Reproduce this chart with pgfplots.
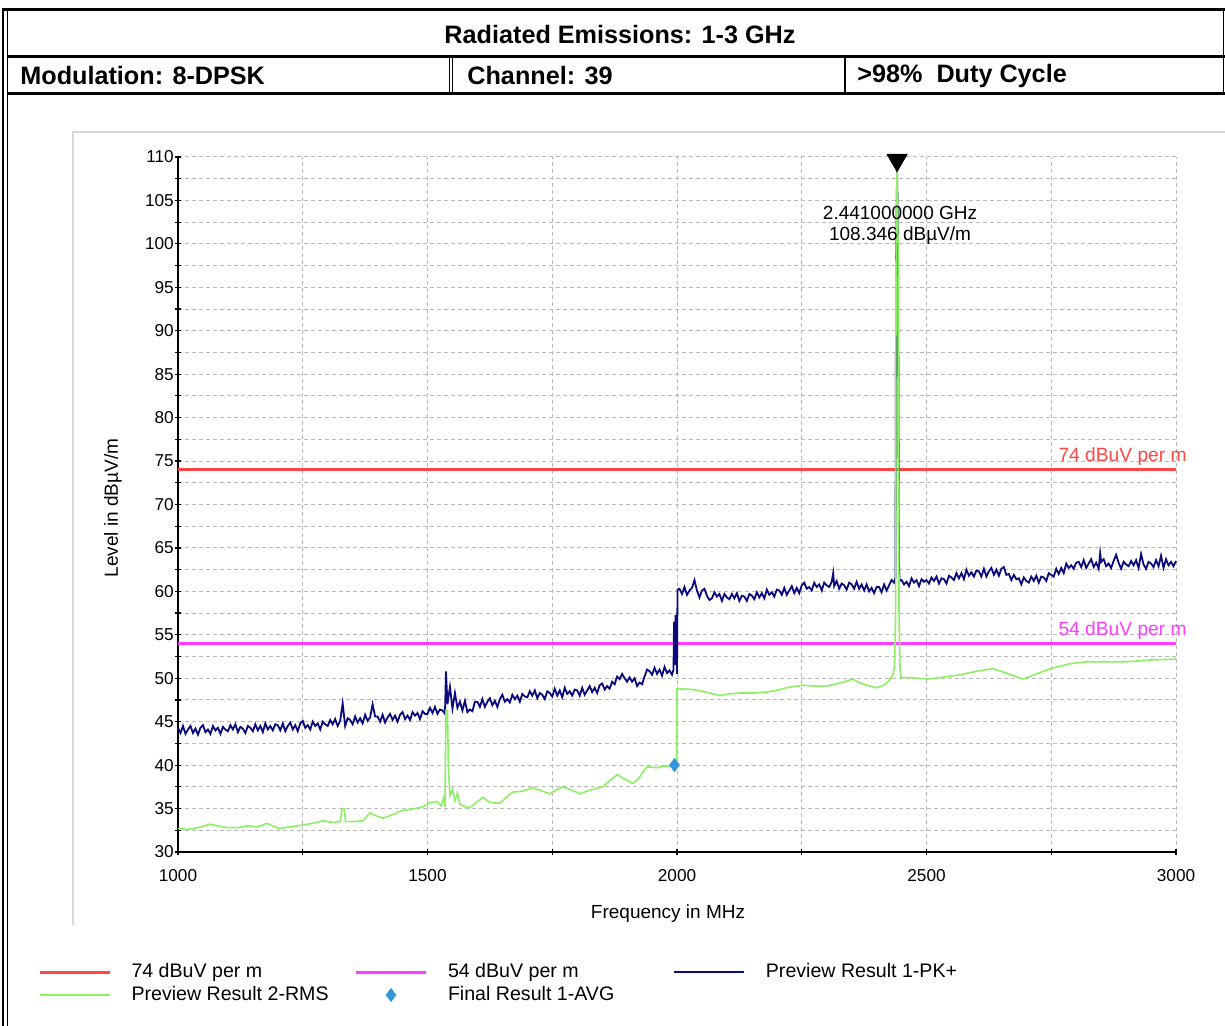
\documentclass[border=0pt]{standalone}
\usepackage{fontspec}
\setmainfont{Liberation Sans}
\usepackage{pgfplots}
\pgfplotsset{compat=1.18}
\definecolor{limitred}{RGB}{255,70,70}
\definecolor{limitmag}{RGB}{255,60,255}
\definecolor{pknavy}{RGB}{10,10,125}
\definecolor{rmsgreen}{RGB}{140,240,100}
\definecolor{finalblue}{RGB}{50,150,220}
\definecolor{gridgray}{RGB}{185,185,185}
\pgfplotsset{
  lineleg/.style={legend image code/.code={\draw[##1] (0pt,0pt) -- (35pt,0pt); \path[draw=none,fill=none] (0pt,0pt) -- (46pt,0pt);}},
  markleg/.style={legend image code/.code={\path[draw=none,fill=none] (0pt,0pt) -- (46pt,0pt); \draw[##1] plot coordinates {(17.5pt,0pt)};}},
}
\begin{document}
\begin{tikzpicture}
\begin{scope}[x=0.5pt,y=0.5pt]
\useasboundingbox (0,0) rectangle (1225,1026);
% header frame
\draw[line width=1.5pt] (2,1016) -- (1225,1016);
\draw[line width=0.7pt] (3,1017) -- (3,0);
\draw[line width=0.7pt] (7.5,1015) -- (7.5,0);
\draw[line width=1.5pt] (7,969) -- (1225,969);
\draw[line width=1.5pt] (7,932.5) -- (1225,932.5);
\draw[line width=0.5pt] (449.5,969) -- (449.5,932.5);
\draw[line width=0.5pt] (452.5,969) -- (452.5,932.5);
\draw[line width=1.2pt] (845,969) -- (845,932.5);
\draw[line width=0.8pt] (1223.5,1016) -- (1223.5,932.5);
\node[font=\fontsize{12.6}{15}\selectfont\bfseries, inner sep=0pt] at (620,991) {Radiated Emissions: 1-3 GHz};
\node[font=\fontsize{12.6}{15}\selectfont\bfseries, inner sep=0pt, anchor=west] at (20,950) {Modulation: 8-DPSK};
\node[font=\fontsize{12.6}{15}\selectfont\bfseries, inner sep=0pt, anchor=west] at (467,950) {Channel: 39};
\node[font=\fontsize{12.6}{15}\selectfont\bfseries, inner sep=0pt, anchor=west] at (857,950) {>98\%~~Duty Cycle};
% plot panel
\draw[gray!30, line width=1pt] (73,101) -- (73,894) -- (1225,894);
\end{scope}
\begin{axis}[
  at={(89pt,87pt)}, anchor=south west,
  scale only axis, width=499pt, height=347.5pt,
  xmin=1000, xmax=3000, ymin=30, ymax=110,
  clip=false,
  axis lines=left, axis line style={-, black, line width=0.75pt},
  tick align=center, major tick length=3.2pt, minor tick length=3.2pt,
  tick style={black, line width=0.6pt},
  xtick={1000,1500,2000,2500,3000}, minor xtick={1250,1750,2250,2750},
  ytick={30,35,...,110}, minor ytick={32.5,37.5,...,107.5},
  grid=both,
  major grid style={gridgray, line width=0.5pt, dash pattern=on 2pt off 1.5pt},
  minor grid style={gridgray, line width=0.5pt, dash pattern=on 2pt off 1.5pt},
  /pgf/number format/assume math mode=true,
  /pgf/number format/1000 sep={},
  ticklabel style={font=\fontsize{8.6}{10}\selectfont},
  xticklabel style={yshift=-3.5pt},
  yticklabel style={xshift=3pt},
  xlabel={Frequency in MHz}, ylabel={Level in dBµV/m},
  label style={font=\fontsize{9.5}{11}\selectfont},
  xlabel style={at={(axis description cs:0.491,-0.0892)}, anchor=center},
  ylabel style={at={(axis description cs:-0.0651,0.495)}, anchor=center},
  legend columns=3,
  legend cell align=left,
  lineleg,
  legend style={at={(axis description cs:-0.14028,-0.1583)}, anchor=north west,
    draw=none, fill=none, inner sep=0pt, outer sep=0pt,
    column sep=0pt, row sep=1.5pt,
    font=\fontsize{9.8}{11}\selectfont,
    nodes={inner sep=0pt, text height=7.5pt, text depth=2.5pt}},
]
\addplot[limitred, line width=1.5pt] coordinates {(1000,74) (3000,74)};
\addlegendentry{\makebox[111.5pt][l]{74 dBuV per m}}
\addplot[limitmag, line width=1.5pt] coordinates {(1000,54) (3000,54)};
\addlegendentry{\makebox[112.5pt][l]{54 dBuV per m}}
\addplot[pknavy, line width=0.9pt] coordinates {
(1000,44.3) (1005,43.7) (1010,44.5) (1015,43.6) (1020,44.1) (1025,44.5) (1030,43.7) (1035,44.2) (1040,43.5) (1045,44.3)
(1050,44.6) (1055,43.8) (1060,44.1) (1065,43.6) (1070,44.5) (1075,44.0) (1080,44.3) (1085,43.6) (1090,44.4) (1095,44.1)
(1100,43.9) (1105,44.6) (1110,44.1) (1115,44.7) (1120,43.8) (1125,44.4) (1130,44.2) (1135,43.7) (1140,44.5) (1145,44.3)
(1150,43.9) (1155,44.7) (1160,44.0) (1165,44.5) (1170,43.8) (1175,44.8) (1180,44.1) (1185,44.5) (1190,44.0) (1195,44.7)
(1200,44.6) (1205,44.0) (1210,44.8) (1215,43.9) (1220,44.5) (1225,44.9) (1230,44.1) (1235,44.6) (1240,43.9) (1245,44.8)
(1250,45.1) (1255,44.3) (1260,44.6) (1265,44.1) (1270,45.0) (1275,44.5) (1280,44.8) (1285,44.1) (1290,45.0) (1295,44.7)
(1300,44.5) (1305,45.2) (1310,44.7) (1315,45.3) (1320,44.5) (1325,45.1) (1330,47.1) (1335,44.5) (1340,45.4) (1345,45.2)
(1350,44.7) (1355,45.6) (1360,44.9) (1365,45.4) (1370,44.8) (1375,45.8) (1380,45.1) (1385,45.5) (1390,47.0) (1395,45.6)
(1400,45.6) (1405,45.0) (1410,45.8) (1415,44.9) (1420,45.5) (1425,45.9) (1430,45.2) (1435,45.7) (1440,45.0) (1445,45.8)
(1450,46.1) (1455,45.3) (1460,45.7) (1465,45.2) (1470,46.1) (1475,45.7) (1480,46.0) (1485,45.3) (1490,46.2) (1495,45.9)
(1500,45.9) (1505,46.6) (1510,46.0) (1515,46.7) (1520,45.9) (1525,46.4) (1530,46.3) (1535,45.9) (1537,50.8) (1540,47.0)
(1545,49.0) (1550,46.5) (1555,48.3) (1560,46.6) (1565,47.3) (1570,46.3) (1575,47.4) (1580,46.1) (1585,46.4) (1590,46.2) (1595,47.3)
(1600,47.3) (1605,46.7) (1610,47.6) (1615,46.7) (1620,47.3) (1625,47.7) (1630,46.9) (1635,47.4) (1640,46.7) (1645,47.6)
(1650,48.1) (1655,47.3) (1660,47.6) (1665,47.2) (1670,48.1) (1675,47.6) (1680,48.0) (1685,47.3) (1690,48.2) (1695,47.9)
(1700,47.8) (1705,48.5) (1710,48.0) (1715,48.6) (1720,47.7) (1725,48.3) (1730,48.1) (1735,47.6) (1740,48.5) (1745,48.3)
(1750,47.9) (1755,48.8) (1760,48.0) (1765,48.6) (1770,47.8) (1775,48.9) (1780,48.2) (1785,48.5) (1790,48.0) (1795,48.7)
(1800,48.6) (1805,48.0) (1810,48.9) (1815,48.1) (1820,48.6) (1825,49.1) (1830,48.4) (1835,48.9) (1840,48.3) (1845,49.2)
(1850,49.4) (1855,48.7) (1860,49.1) (1865,48.8) (1870,49.6) (1875,49.3) (1880,50.2) (1885,49.9) (1890,50.5) (1895,50.0)
(1900,49.6) (1905,50.1) (1910,49.6) (1915,50.0) (1920,49.1) (1925,49.5) (1930,49.3) (1935,50.2) (1940,51.0) (1945,50.8)
(1950,50.4) (1955,51.2) (1960,50.5) (1965,51.0) (1970,50.3) (1975,51.3) (1980,50.6) (1985,50.9) (1990,50.4) (1993,51.0)
(1994,56.5) (1995,55.0) (1996,51.5) (1997,57.3) (1998,52.0) (1999,56.0) (2000,50.5) (2001,60.2)
(2005,60.3) (2010,59.7) (2015,60.5) (2020,59.6) (2025,60.1) (2030,60.4) (2035,61.3) (2040,60.1) (2045,59.3) (2050,60.1)
(2055,60.3) (2060,59.5) (2065,59.0) (2070,59.2) (2075,59.9) (2080,59.4) (2085,59.7) (2090,58.9) (2095,59.7) (2100,59.3)
(2105,59.1) (2110,59.7) (2115,59.2) (2120,59.8) (2125,58.9) (2130,59.5) (2135,59.4) (2140,58.9) (2145,59.7) (2150,59.5)
(2155,59.1) (2160,59.9) (2165,59.3) (2170,59.8) (2175,59.2) (2180,60.2) (2185,59.6) (2190,59.9) (2195,59.4) (2200,60.2)
(2205,60.1) (2210,59.6) (2215,60.4) (2220,59.6) (2225,60.1) (2230,60.6) (2235,59.8) (2240,60.4) (2245,59.8) (2250,60.7)
(2255,61.0) (2260,60.3) (2265,60.5) (2270,60.1) (2275,61.0) (2280,60.5) (2285,60.8) (2290,60.1) (2295,61.0) (2300,60.7)
(2305,60.5) (2310,61.1) (2313,62.1) (2315,60.6) (2320,61.2) (2325,60.3) (2330,60.9) (2335,60.7) (2340,60.2) (2345,61.0)
(2350,60.8) (2355,60.3) (2360,61.1) (2365,60.3) (2370,60.8) (2375,60.1) (2380,60.8) (2385,60.0) (2390,60.4) (2395,59.8)
(2400,60.5) (2405,60.5) (2410,59.9) (2415,60.8) (2420,60.1) (2425,60.7) (2430,61.3) (2435,61.0) (2437.8,61.6)
(2439,98.0) (2441,108.3) (2443,100.0) (2443.7,84.0) (2444.8,63.6) (2446,61.2) (2450,61.3) (2455,60.8) (2460,61.1) (2465,60.6) (2470,61.5)
(2475,61.0) (2480,61.3) (2485,60.6) (2490,61.4) (2495,61.1) (2500,61.3)
(2505,60.9) (2510,61.6) (2515,61.2) (2520,61.7) (2525,60.9) (2530,61.5) (2535,61.4) (2540,60.9) (2545,61.8) (2550,61.6)
(2555,61.3) (2560,62.1) (2565,61.5) (2570,62.1) (2575,61.4) (2580,62.5) (2585,61.8) (2590,62.2) (2595,61.7) (2600,62.4)
(2605,62.3) (2610,61.7) (2615,62.6) (2620,61.7) (2625,62.3) (2630,62.7) (2635,61.9) (2640,62.5) (2645,61.8) (2650,62.6)
(2655,62.8) (2660,61.9) (2665,62.0) (2670,61.3) (2675,61.9) (2680,61.4) (2685,61.5) (2690,60.8) (2695,61.6) (2700,61.2)
(2705,61.0) (2710,61.7) (2715,61.2) (2720,61.8) (2725,61.0) (2730,61.7) (2735,61.6) (2740,61.2) (2745,62.1) (2750,61.9)
(2755,61.7) (2760,62.6) (2765,62.0) (2770,62.7) (2775,62.1) (2780,63.2) (2785,62.7) (2790,63.0) (2795,62.6) (2800,63.3)
(2805,63.4) (2810,62.8) (2815,63.6) (2820,62.7) (2825,63.2) (2830,63.7) (2835,62.8) (2840,63.3) (2845,62.6) (2848,64.4)
(2850,63.4) (2855,63.7) (2860,62.9) (2865,63.2) (2870,62.7) (2875,63.5) (2880,64.2) (2885,63.3) (2890,62.6) (2895,63.4)
(2900,63.1) (2905,62.9) (2910,63.5) (2915,63.0) (2920,63.6) (2925,62.7) (2930,64.3) (2935,63.1) (2940,62.6) (2945,63.4)
(2950,63.2) (2955,62.8) (2960,63.6) (2965,62.9) (2970,64.1) (2975,62.7) (2980,63.7) (2985,63.0) (2990,63.4) (2995,62.9) (3000,63.5)
};
\addlegendentry{Preview Result 1-PK+}
\addplot[rmsgreen, line width=0.8pt] coordinates {
(1000,32.7) (1020,32.6) (1040,32.8) (1064,33.2) (1080,33.0) (1100,32.8) (1118,32.8) (1140,33.0) (1160,32.9) (1178,33.3)
(1190,33.0) (1204,32.7) (1225,32.9) (1250,33.1) (1270,33.3) (1291,33.6) (1310,33.4) (1325,33.5) (1329,35.0) (1333,35.0)
(1336,33.5) (1355,33.5) (1371,33.6) (1380,34.2) (1385,34.5) (1395,34.2) (1411,33.9) (1430,34.3) (1445,34.7) (1465,34.9)
(1491,35.2) (1505,35.7) (1519,35.8) (1527,35.3) (1532,36.2) (1535,35.4) (1537,46.3) (1540,46.3) (1542,39.5) (1545,36.5)
(1550,37.2) (1555,35.9) (1560,36.8) (1565,35.5) (1575,35.2) (1585,35.1) (1600,35.8) (1611,36.3) (1625,35.7) (1645,35.6)
(1660,36.4) (1671,36.9) (1690,37.0) (1711,37.4) (1730,37.0) (1745,36.7) (1760,37.2) (1771,37.5) (1790,37.1) (1805,36.7)
(1830,37.2) (1851,37.5) (1865,38.2) (1880,38.9) (1895,38.4) (1912,37.9) (1925,38.6) (1935,39.5) (1940,39.8) (1960,39.7)
(1975,39.9) (1992,39.9) (1999,40.0) (2000,48.8) (2032,48.7) (2050,48.5) (2066,48.3) (2086,48.0) (2105,48.2) (2126,48.3)
(2150,48.3) (2179,48.4) (2200,48.6) (2219,48.9) (2252,49.2) (2275,49.1) (2300,49.1) (2330,49.5) (2353,49.9) (2365,49.5)
(2380,49.2) (2400,48.9) (2415,49.2) (2426,49.8) (2433,50.5) (2436,51.5) (2438,57.0) (2439,100.0) (2441,108.35) (2443,100.0)
(2445,57.0) (2447,51.0) (2449,50.1) (2486,50.0) (2501,49.9) (2530,50.1) (2567,50.4) (2600,50.8) (2633,51.1) (2660,50.6)
(2693,49.9) (2720,50.5) (2754,51.2) (2790,51.7) (2822,51.9) (2860,51.9) (2902,51.9) (2948,52.1) (2998,52.2) (3000,52.3)
};
\addlegendentry{\makebox[111.5pt][l]{Preview Result 2-RMS}}
\addplot[only marks, mark=diamond*, mark size=3.2pt, finalblue, markleg]
  coordinates {(1995,40.0)};
\addlegendentry{\makebox[112.5pt][l]{Final Result 1-AVG}}
\addplot[only marks, mark=triangle*, mark size=5.8pt, black, mark options={rotate=180}, forget plot]
  coordinates {(2441,109.65)};
\node[font=\fontsize{9.5}{11}\selectfont, inner sep=0pt] at (axis cs:2447,103.55) {2.441000000 GHz};
\node[font=\fontsize{9.5}{11}\selectfont, inner sep=0pt] at (axis cs:2447,100.9) {108.346 dBµV/m};
\node[anchor=east, xshift=5.5pt, yshift=6.4pt, inner sep=0pt, text=limitred, font=\fontsize{9.6}{11}\selectfont] at (axis cs:3000,74) {74 dBuV per m};
\node[anchor=east, xshift=5.5pt, yshift=6.4pt, inner sep=0pt, text=limitmag, font=\fontsize{9.6}{11}\selectfont] at (axis cs:3000,54) {54 dBuV per m};
\end{axis}
\end{tikzpicture}
\end{document}
